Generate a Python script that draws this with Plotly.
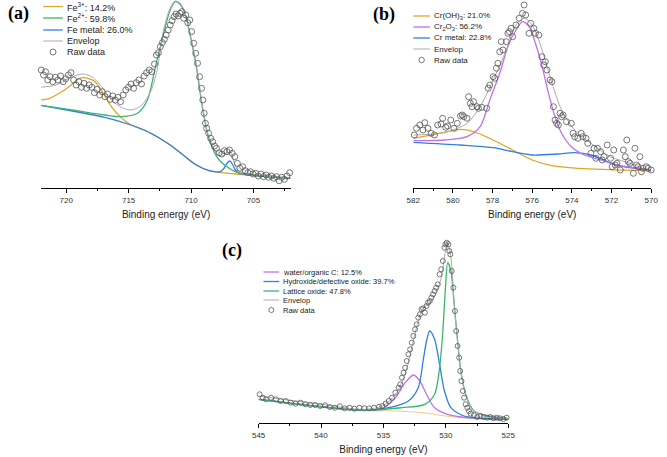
import plotly.graph_objects as go

# ---------------- DATA ----------------
# (a) Fe 2p
fe_raw_e = [722.0, 721.82, 721.66, 721.48, 721.29, 721.08, 720.88, 720.67, 720.46, 720.25, 720.04, 719.83, 719.62, 719.41, 719.2,
            718.99, 718.78, 718.58, 718.37, 718.16, 717.95, 717.74, 717.53, 717.32, 717.11, 716.9, 716.69, 716.48, 716.27, 716.07,
            715.86, 715.65, 715.44, 715.23, 715.02, 714.81, 714.6, 714.39, 714.18, 713.97, 713.76, 713.56, 713.35, 713.14, 712.93,
            712.77, 712.61, 712.46, 712.3, 712.14, 711.99, 711.83, 711.67, 711.52, 711.36, 711.2, 711.05, 710.89, 710.73, 710.58,
            710.42, 710.26, 710.1, 709.95, 709.79, 709.63, 709.48, 709.32, 709.16, 709.06, 708.95, 708.85, 708.75, 708.59, 708.43,
            708.27, 708.12, 707.96, 707.75, 707.54, 707.33, 707.12, 706.92, 706.71, 706.5, 706.29, 706.08, 705.87, 705.66, 705.45,
            705.24, 705.03, 704.82, 704.61, 704.4, 704.2, 703.99, 703.78, 703.57, 703.36, 703.15, 702.94, 702.73, 702.52, 702.31, 702.1]
fe_raw_i = [118, 113, 116.3, 108, 111.3, 106.3, 110.7, 108, 112, 106.3, 109.3, 113, 115.3, 108, 103,
            106.3, 100.7, 104.7, 99.7, 103, 100.7, 95.3, 98.7, 93, 96.3, 91.3, 94, 88.7, 92, 88,
            90.7, 86.3, 93, 98, 100.7, 104, 99.7, 105.3, 108, 104, 112, 115.3, 118, 116.3, 124,
            133, 135.3, 141.3, 145.3, 148.7, 153, 158, 163, 167.3, 171.3, 174, 172, 174.7, 176.3, 169.7,
            173, 165.3, 168, 156.3, 144.7, 134.7, 124.7, 111.3, 99.7, 88, 74.7, 64.7, 59.7, 54.7, 49.7,
            46.3, 42, 39.7, 35.3, 34, 37.3, 36.3, 38, 34.7, 31.3, 24.7, 19.7, 21.3, 17.3, 15.3,
            16.3, 14, 14.7, 12, 14, 11.3, 13, 10.7, 12, 9.7, 11.3, 7.3, 10.7, 8.7, 12, 15.3]
fe3_e = [722.08, 721.35, 720.56, 719.78, 718.99, 718.6, 718.2, 717.69, 717.03, 716.38, 715.73, 714.81, 713.76, 712.72,
         711.67, 710.63, 709.58, 708.54, 707.49, 706.44, 704.35, 702.05]
fe3_i = [88, 89.7, 94.7, 101.3, 109.3, 110.3, 109.3, 106.3, 94.7, 81.3, 72, 63, 58, 51.3, 43, 33, 23, 17.3, 15.3, 14, 12, 9.7]
fe2_e = [722.08, 719.52, 716.9, 715.6, 714.29, 713.5, 712.85, 712.2, 711.67, 711.28, 710.89, 710.5, 710.1, 709.58,
         709.06, 708.54, 707.75, 706.45, 704.35, 702.05]
fe2_i = [82.7, 78, 73, 71.3, 74.7, 88, 121.3, 154.7, 178, 186.3, 184, 174.7, 154.7, 121.3, 78, 48, 28, 16.3, 12.3, 9.7]
femet_e = [722.08, 719.52, 716.9, 714.81, 713.76, 712.72, 711.67, 710.63, 709.58, 708.54, 707.75, 707.4, 707.1, 706.9,
           706.7, 706.45, 706.1, 705.5, 704.35, 702.05]
femet_i = [82.7, 77, 70.7, 63, 58, 51.3, 43, 33, 23, 17.3, 16, 19, 25, 27, 24, 18, 14.5, 13.5, 12, 9.7]
fe_env_e = [722.08, 720.82, 719.78, 718.73, 717.95, 717.16, 716.38, 715.59, 714.81, 714.03, 713.24, 712.72, 712.2, 711.67,
            711.28, 710.89, 710.5, 710.1, 709.58, 709.06, 708.54, 707.75, 707.1, 706.9, 706.7, 706.45, 706.1, 704.35, 702.05]
fe_env_i = [100.7, 103, 109.7, 114, 111.3, 101.3, 88, 80.7, 78, 82, 96.3, 118, 158, 180, 187, 185, 176, 156, 123, 80,
            50, 32, 34, 36, 32, 22, 16, 12.5, 10]

# (b) Cr 2p3/2
cr_raw_e = [581.95, 581.84, 581.67, 581.51, 581.42, 581.26, 581.1, 580.93, 580.77, 580.6, 580.52, 580.36, 580.27, 580.11,
            579.95, 579.78, 579.62, 579.53, 579.45, 579.29, 579.21, 579.12, 579.04, 578.96, 578.79, 578.71, 578.55, 578.3,
            578.22, 578.14, 577.97, 577.89, 577.81, 577.73, 577.64, 577.56, 577.48, 577.31, 577.23, 577.15, 577.07, 576.99,
            576.82, 576.66, 576.49, 576.41, 576.33, 576.16, 576.08, 575.92, 575.84, 575.67, 575.51, 575.42, 575.34, 575.26,
            575.1, 575.01, 574.93, 574.85, 574.77, 574.68, 574.6, 574.52, 574.44, 574.27, 574.03, 573.94, 573.86, 573.7,
            573.53, 573.45, 573.29, 573.2, 573.04, 572.88, 572.79, 572.71, 572.55, 572.47, 572.38, 572.22, 572.05, 571.97,
            571.89, 571.81, 571.73, 571.56, 571.4, 571.31, 571.23, 571.15, 571.07, 570.9, 570.82, 570.74, 570.66, 570.57,
            570.49, 570.41, 570.25, 570.16, 570.0]
cr_raw_i = [53, 59.7, 63, 58, 65.3, 59.7, 54.7, 53, 63, 64, 69.7, 60.7, 62, 68,
            59.7, 64.7, 72, 73, 71.3, 69.7, 91.3, 84.7, 81.3, 86.3, 81.3, 79.7, 80.7, 79.7,
            99.7, 103, 111.3, 109.7, 119.7, 124.7, 136.3, 146.3, 138, 146.3, 154.7, 156.3, 159.7, 151.3,
            163, 169.7, 174.7, 183, 173, 154.7, 164.7, 159.7, 154.7, 153, 131.3, 123, 126.3, 118,
            108, 106.3, 81.3, 68, 64.7, 63, 74.7, 71.3, 73, 66.3, 64.7, 54.7, 51.3, 49.7,
            54.7, 51.3, 49.7, 44.7, 34.7, 39.7, 29.7, 39.7, 36.3, 28, 31.3, 43, 29.7, 21.3,
            38, 23, 24.7, 18, 38, 31.3, 48, 26.3, 24.7, 14.7, 39.7, 23, 21.3, 31.3,
            16.3, 19.7, 21.3, 19.7, 18]
croh_e = [582, 580.93, 579.6, 578.96, 577.97, 576.99, 576.0, 575.0, 573.7, 570]
croh_i = [49.7, 53.7, 58.7, 56.3, 48, 38, 28, 22.3, 19.7, 17.3]
cr2o3_e = [582, 580.44, 579.29, 578.63, 578.14, 577.64, 577.23, 576.82, 576.49, 576.16, 575.84, 575.5, 575.18, 574.85,
           574.52, 574.03, 573.37, 572.55, 571.73, 570]
cr2o3_i = [47.3, 48, 51.3, 61.3, 88, 114.7, 141.3, 158, 166.3, 161.3, 144.7, 121.3, 94.7, 71.3, 54.7, 41.3, 33, 28, 23, 18]
crmet_e = [582, 579.6, 577.97, 577, 576, 574.7, 573.86, 573.04, 572.2, 571.4, 570]
crmet_i = [45.7, 43, 40.3, 36.3, 33, 34, 35.3, 33, 26.3, 21.3, 18]
cr_env_e = [582, 580.44, 579.29, 578.63, 577.97, 577.31, 576.82, 576.41, 576, 575.5, 575, 574.52, 573.86, 573.04, 572.06,
            571.07, 570]
cr_env_i = [53, 55.3, 64.7, 81.3, 108, 138, 163, 169.7, 163, 138, 104.7, 78, 58, 44.7, 31.3, 24.7, 16.3]

# (c) O 1s
o_raw_e = [544.92, 544.66, 544.40, 544.00, 543.61, 543.22, 542.82, 542.43, 542.04, 541.64, 541.25, 540.86, 540.47, 540.07,
           539.68, 539.29, 538.89, 538.50, 538.11, 537.71, 537.32, 536.93, 536.53, 536.14, 535.75, 535.35, 535.09, 534.83,
           534.57, 534.31, 534.04, 533.78, 533.65, 533.52, 533.39, 533.26, 533.13, 533.0, 532.86, 532.73, 532.60, 532.47,
           532.34, 532.21, 532.08, 531.95, 531.82, 531.68, 531.55, 531.42, 531.29, 531.16, 531.03, 530.90, 530.77, 530.64,
           530.50, 530.37, 530.24, 530.11, 530.03, 529.93, 529.80, 529.72, 529.64, 529.53, 529.40, 529.27, 529.17, 529.06,
           528.93, 528.85, 528.75, 528.64, 528.54, 528.41, 528.28, 528.15, 528.01, 527.75, 527.49, 527.23, 526.97, 526.70,
           526.44, 526.18, 525.92, 525.66, 525.39, 525.13]
o_raw_i = [28.7, 25.3, 23.7, 25.3, 23.7, 22, 22, 20.3, 19.3, 20.3, 18.7, 18, 18, 17,
           17.7, 16, 15.3, 16.7, 14.7, 15.3, 14.3, 15.3, 14.7, 14.7, 15.3, 16.3, 17, 19.3,
           22, 25.3, 30.3, 35.3, 38.7, 45.3, 50.3, 55.3, 62, 68.7, 73.7, 80.3, 87, 93.7,
           98.7, 105.3, 108.7, 113.7, 114.7, 110.3, 117, 120.3, 122, 125.3, 128.7, 132, 135.3, 138.7,
           148.7, 153.7, 162, 175.3, 178.7, 180.3, 178.7, 172, 168.7, 152, 135.3, 112, 92, 77,
           65.3, 52, 42, 32, 25.3, 18.7, 15.3, 12, 9.3, 8, 6, 7, 6, 5.3,
           6, 4.7, 5.3, 4.7, 4, 5.3]
water_e = [545, 540.33, 536.66, 535.09, 534.04, 533.26, 532.6, 532.08, 531.55, 530.9, 529.85, 528.28, 525]
water_i = [23.7, 17, 12.7, 14.7, 25.3, 40.3, 48, 42, 28.7, 15.3, 8.7, 5.3, 3.7]
hydrox_e = [545, 536.66, 534.57, 533, 532.21, 531.82, 531.55, 531.29, 530.9, 530.5, 530.11, 529.59, 528.54, 527.23, 525]
hydrox_i = [23.7, 12.7, 15.3, 22, 35.3, 62, 82, 92, 83.7, 58.7, 32, 15.3, 7, 4.7, 3.7]
lattice_e = [545, 536.66, 533.52, 531.68, 530.9, 530.5, 530.24, 530.03, 529.85, 529.59, 529.33, 529.06, 528.8, 528.41,
             527.75, 526.7, 525]
lattice_i = [23.7, 12.7, 15.3, 18.7, 28.7, 55.3, 92, 135.3, 160.3, 152, 118.7, 82, 52, 28.7, 12, 7, 4.7]
o_env_e = [545, 540.33, 536.66, 535.09, 534.04, 533.26, 532.73, 532.21, 531.82, 531.42, 530.9, 530.37, 530.03, 529.85,
           529.59, 529.33, 529.06, 528.8, 528.41, 527.75, 525]
o_env_i = [27, 19.3, 13.7, 17, 28.7, 48.7, 75.3, 102, 114.7, 118.7, 127, 145.3, 172, 179.3, 165.3, 118.7, 82, 52, 28.7, 12, 4.7]
o_bg_e = [545, 536.66, 534, 532, 530, 528, 525]
o_bg_i = [23.7, 12.7, 12, 10.5, 7, 4.5, 3.5]

legend_a = ["Fe<sup>3+</sup>: 14.2%", "Fe<sup>2+</sup>: 59.8%", "Fe metal: 26.0%", "Envelop", "Raw data"]
legend_b = ["Cr(OH)<sub>3</sub>: 21.0%", "Cr<sub>2</sub>O<sub>3</sub>: 56.2%", "Cr metal: 22.8%", "Envelop", "Raw data"]
legend_c = ["water/organic C: 12.5%", "Hydroxide/defective oxide: 39.7%", "Lattice oxide: 47.8%", "Envelop", "Raw data"]
x_title = "Binding energy (eV)"

# ---------------- STYLE ----------------
ORANGE = "#E0A52A"
GREEN = "#3DB46E"
BLUE = "#2F80E0"
PURPLE = "#C272E6"
GRAY = "#ABABAB"
MK = "#555555"
W, H = 667, 457
FONT = "Liberation Sans, Arial, sans-serif"

fig = go.Figure()

def line(x, y, color, xa, ya, width=1.3):
    fig.add_trace(go.Scatter(x=x, y=y, mode="lines", line=dict(color=color, width=width, shape="spline", smoothing=0.8),
                             xaxis=xa, yaxis=ya, showlegend=False, hoverinfo="skip"))

def raw(x, y, xa, ya, size):
    fig.add_trace(go.Scatter(x=x, y=y, mode="markers",
                             marker=dict(symbol="circle-open", size=size, color=MK, line=dict(width=0.8, color=MK)),
                             xaxis=xa, yaxis=ya, showlegend=False, hoverinfo="skip", cliponaxis=False))

# panel a
line(fe3_e, fe3_i, ORANGE, "x", "y")
line(femet_e, femet_i, BLUE, "x", "y")
line(fe2_e, fe2_i, GREEN, "x", "y")
line(fe_env_e, fe_env_i, GRAY, "x", "y", 1)
raw(fe_raw_e, fe_raw_i, "x", "y", 6)
# panel b
line(croh_e, croh_i, ORANGE, "x2", "y2")
line(crmet_e, crmet_i, BLUE, "x2", "y2")
line(cr2o3_e, cr2o3_i, PURPLE, "x2", "y2")
line(cr_env_e, cr_env_i, GRAY, "x2", "y2", 1)
raw(cr_raw_e, cr_raw_i, "x2", "y2", 6)
# panel c
line(o_bg_e, o_bg_i, "#F3C98A", "x3", "y3", 1)
line(water_e, water_i, PURPLE, "x3", "y3")
line(hydrox_e, hydrox_i, BLUE, "x3", "y3")
line(lattice_e, lattice_i, GREEN, "x3", "y3")
line(o_env_e, o_env_i, GRAY, "x3", "y3", 1)
raw(o_raw_e, o_raw_i, "x3", "y3", 5)

def px(v): return v / W
def py(v): return 1 - v / H

def xax(dom, rng, dtick, minor):
    return dict(domain=[px(dom[0]), px(dom[1])], range=rng, dtick=dtick, showline=True, linecolor="black", linewidth=1,
                ticks="outside", ticklen=4, tickcolor="black", tickwidth=1, showgrid=False, zeroline=False,
                minor=dict(dtick=minor, ticks="outside", ticklen=2, tickcolor="black", showgrid=False),
                tickfont=dict(family=FONT, size=8, color="#333"),
                title=dict(text=x_title, font=dict(family=FONT, size=10, color="#222"), standoff=7))

def yax(top, bottom, rng):
    return dict(domain=[py(bottom), py(top)], range=rng, visible=False, showgrid=False, zeroline=False)

fig.update_layout(
    width=W, height=H, margin=dict(l=0, r=0, t=0, b=0), paper_bgcolor="white", plot_bgcolor="white",
    showlegend=False,
    xaxis=dict(anchor="y", **xax((35, 290), [722, 702], 5, 2.5)),
    yaxis=dict(anchor="x", **yax(0, 188, [0, 188])),
    xaxis2=dict(anchor="y2", **xax((415, 658), [582, 570], 2, 1)),
    yaxis2=dict(anchor="x2", **yax(0, 188, [0, 188])),
    xaxis3=dict(anchor="y3", **xax((257, 512), [545, 525], 5, 2.5)),
    yaxis3=dict(anchor="x3", **yax(220, 423, [0, 203])),
)

shapes, annos = [], []
def legend(labels, colors, x0, x1, xt, rows, fsize, msize):
    for lab, col, r in zip(labels, colors, rows):
        if col is None:
            shapes.append(dict(type="circle", xref="paper", yref="paper", xsizemode="pixel", ysizemode="pixel",
                               xanchor=px((x0 + x1) / 2), yanchor=py(r), x0=-msize / 2, x1=msize / 2,
                               y0=-msize / 2, y1=msize / 2, line=dict(color=MK, width=0.8)))
        else:
            shapes.append(dict(type="line", xref="paper", yref="paper", x0=px(x0), x1=px(x1), y0=py(r), y1=py(r),
                               line=dict(color=col, width=1.3 if col != GRAY else 1)))
        annos.append(dict(text=lab, xref="paper", yref="paper", x=px(xt), y=py(r), xanchor="left", yanchor="middle",
                          showarrow=False, font=dict(family=FONT, size=fsize, color="#222")))

legend(legend_a, [ORANGE, GREEN, BLUE, GRAY, None], 37, 57, 59, [6.5, 18, 30, 41, 52], 9, 6)
legend(legend_b, [ORANGE, PURPLE, BLUE, GRAY, None], 415, 432, 434, [16, 27, 38, 49, 60], 8, 5.5)
legend(legend_c, [PURPLE, BLUE, GREEN, GRAY, None], 262, 278, 280, [272, 281.5, 291, 300, 310], 7.5, 5)

for lab, x, y in [("(a)", 12, 14), ("(b)", 385, 14.5), ("(c)", 230, 250.5)]:
    annos.append(dict(text="<b>" + lab + "</b>", xref="paper", yref="paper", x=px(x), y=py(y), xanchor="center",
                      yanchor="middle", showarrow=False, font=dict(family="Liberation Serif, Times New Roman, serif",
                                                                    size=18, color="black")))

fig.update_layout(shapes=shapes, annotations=annos)
fig.write_html("out.html", config={"displayModeBar": False},
               post_script="document.body.style.margin='0';document.body.style.overflow='hidden';")
